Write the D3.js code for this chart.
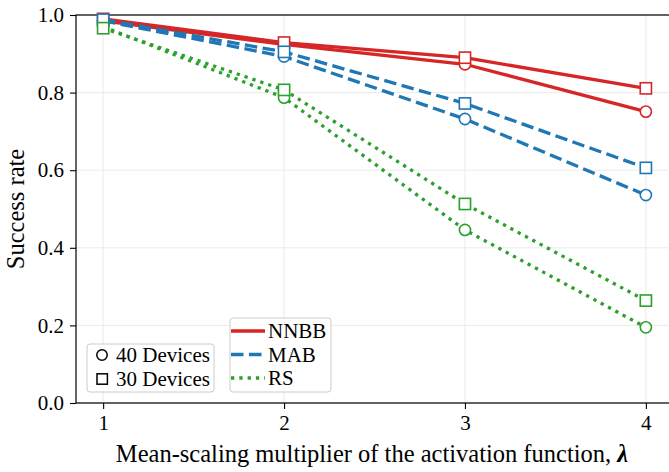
<!DOCTYPE html>
<html><head><meta charset="utf-8">
<script src="https://cdn.jsdelivr.net/npm/d3@7"></script>
<style>html,body{margin:0;padding:0;background:#fff;overflow:hidden}</style>
</head><body>
<svg id="chart" width="669" height="472"></svg>
<script>
const xValues = [1, 2, 3, 4];
const nnbb40 = [0.985, 0.924, 0.873, 0.751];
const nnbb30 = [0.990, 0.929, 0.890, 0.811];
const mab40  = [0.985, 0.893, 0.732, 0.536];
const mab30  = [0.988, 0.905, 0.772, 0.606];
const rs40   = [0.970, 0.787, 0.446, 0.195];
const rs30   = [0.966, 0.807, 0.513, 0.264];
const xTicks = [1, 2, 3, 4];
const yTicks = [0.0, 0.2, 0.4, 0.6, 0.8, 1.0];
const methods = ["NNBB", "MAB", "RS"];
const deviceLabels = ["40 Devices", "30 Devices"];

const colors = {NNBB: "#d62728", MAB: "#1f77b4", RS: "#2ca02c"};
const dashes = {NNBB: null, MAB: "12.5,5.5", RS: "3.3,5"};
const series = [
  {m: "NNBB", shape: "circle", v: nnbb40},
  {m: "MAB", shape: "circle", v: mab40},
  {m: "RS", shape: "circle", v: rs40},
  {m: "NNBB", shape: "square", v: nnbb30},
  {m: "MAB", shape: "square", v: mab30},
  {m: "RS", shape: "square", v: rs30}
];

const svg = d3.select("#chart");
const font = "'Liberation Serif','Times New Roman',serif";
const L = 76, R = 673, T = 15, B = 403;
const x = d3.scaleLinear().domain([0.85, 4.15]).range([L, R]);
const y = d3.scaleLinear().domain([0, 1]).range([B, T]);

// grid
const g = svg.append("g");
g.selectAll(".gx").data(xTicks).join("line")
  .attr("x1", d => x(d)).attr("x2", d => x(d)).attr("y1", T).attr("y2", B)
  .attr("stroke", "#ebebeb").attr("stroke-width", 1);
g.selectAll(".gy").data(yTicks).join("line")
  .attr("x1", L).attr("x2", R).attr("y1", d => y(d)).attr("y2", d => y(d))
  .attr("stroke", "#ebebeb").attr("stroke-width", 1);

// axes
const xAxis = svg.append("g").attr("transform", `translate(0,${B})`)
  .call(d3.axisBottom(x).tickValues(xTicks).tickFormat(d3.format("d")).tickSize(6).tickPadding(6));
const yAxis = svg.append("g").attr("transform", `translate(${L},0)`)
  .call(d3.axisLeft(y).tickValues(yTicks).tickFormat(d3.format(".1f")).tickSize(6).tickPadding(6));
[xAxis, yAxis].forEach(a => {
  a.select(".domain").remove();
  a.selectAll("line").attr("stroke", "#000").attr("stroke-width", 1.1);
  a.selectAll("text").attr("font-family", font).attr("font-size", 21).attr("fill", "#000");
});
// spines
svg.append("rect").attr("x", L).attr("y", T).attr("width", R - L).attr("height", B - T)
  .attr("fill", "none").attr("stroke", "#000").attr("stroke-width", 1.2);

// lines
const line = d3.line().x((d, i) => x(xValues[i])).y(d => y(d));
series.forEach(s => {
  svg.append("path").datum(s.v).attr("d", line)
    .attr("fill", "none").attr("stroke", colors[s.m]).attr("stroke-width", 3.3)
    .attr("stroke-dasharray", dashes[s.m]);
  const mk = svg.append("g");
  s.v.forEach((v, i) => {
    if (s.shape === "circle") {
      mk.append("circle").attr("cx", x(xValues[i])).attr("cy", y(v)).attr("r", 5.6)
        .attr("fill", "#fff").attr("stroke", colors[s.m]).attr("stroke-width", 1.6);
    } else {
      mk.append("rect").attr("x", x(xValues[i]) - 5.6).attr("y", y(v) - 5.6)
        .attr("width", 11.2).attr("height", 11.2)
        .attr("fill", "#fff").attr("stroke", colors[s.m]).attr("stroke-width", 1.6);
    }
  });
});

// legend 1: devices
const lg1 = svg.append("g");
lg1.append("rect").attr("x", 87).attr("y", 344).attr("width", 127).attr("height", 48).attr("rx", 3)
  .attr("fill", "#fff").attr("fill-opacity", 0.8).attr("stroke", "#cccccc").attr("stroke-width", 1);
deviceLabels.forEach((t, i) => {
  const cy = 355 + i * 24;
  if (i === 0) lg1.append("circle").attr("cx", 102).attr("cy", cy).attr("r", 5.2)
    .attr("fill", "#fff").attr("stroke", "#000").attr("stroke-width", 1.5);
  else lg1.append("rect").attr("x", 97).attr("y", cy - 5.2).attr("width", 10.4).attr("height", 10.4)
    .attr("fill", "#fff").attr("stroke", "#000").attr("stroke-width", 1.5);
  lg1.append("text").attr("x", 116).attr("y", cy).attr("dy", "0.35em")
    .attr("font-family", font).attr("font-size", 21).text(t);
});

// legend 2: methods
const lg2 = svg.append("g");
lg2.append("rect").attr("x", 230).attr("y", 318).attr("width", 101).attr("height", 74).attr("rx", 3)
  .attr("fill", "#fff").attr("fill-opacity", 0.8).attr("stroke", "#cccccc").attr("stroke-width", 1);
methods.forEach((m, i) => {
  const cy = 331 + i * 23.5;
  lg2.append("line").attr("x1", 231).attr("x2", 265).attr("y1", cy).attr("y2", cy)
    .attr("stroke", colors[m]).attr("stroke-width", 3.3).attr("stroke-dasharray", dashes[m]);
  lg2.append("text").attr("x", 268).attr("y", cy).attr("dy", "0.35em")
    .attr("font-family", font).attr("font-size", 21).text(m);
});

// axis labels
svg.append("text").attr("transform", `translate(24,${(T + B) / 2}) rotate(-90)`)
  .attr("text-anchor", "middle")
  .attr("font-family", font).attr("font-size", 24.5).text("Success rate");
const xl = svg.append("text").attr("x", 372).attr("y", 462)
  .attr("text-anchor", "middle").attr("font-family", font).attr("font-size", 24.5);
xl.append("tspan").text("Mean-scaling multiplier of the activation function, ");
xl.append("tspan").attr("font-style", "italic").attr("font-weight", "bold").text("λ");
</script>
</body></html>
